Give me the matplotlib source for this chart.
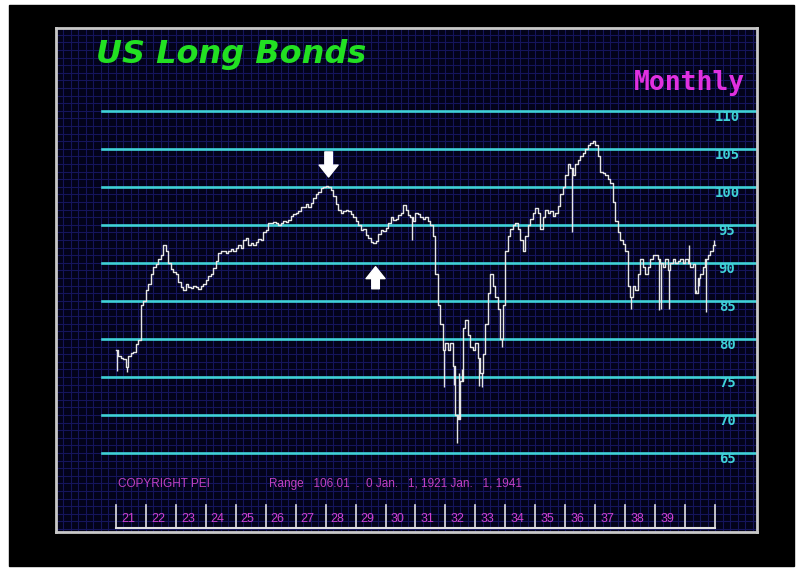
import numpy as np
import matplotlib
matplotlib.use("Agg")
import matplotlib.pyplot as plt
from matplotlib.patches import Rectangle

# monthly closes, one row per year 1921..1940
closes = [
    78.5, 77.8, 77.5, 77.3, 76.3, 77.8, 78.2, 78.3, 79.3, 79.8, 84.5, 85.0,   # 1921
    86.5, 87.2, 88.5, 89.5, 89.8, 90.5, 91.0, 92.3, 91.5, 90.0, 89.2, 88.8,   # 1922
    88.5, 87.5, 86.8, 86.5, 87.2, 86.8, 86.7, 87.0, 86.8, 86.6, 87.0, 87.2,   # 1923
    87.8, 88.3, 88.6, 89.3, 90.3, 91.3, 91.6, 91.5, 91.3, 91.6, 91.8, 91.5,   # 1924
    92.0, 92.3, 92.0, 93.0, 93.3, 92.3, 92.6, 92.4, 92.8, 93.2, 93.0, 94.0,   # 1925
    94.3, 95.2, 95.3, 95.4, 95.2, 95.0, 95.2, 95.5, 95.4, 95.7, 96.2, 96.4,   # 1926
    96.6, 96.8, 97.3, 97.3, 97.8, 97.4, 97.9, 98.6, 99.0, 99.3, 99.8, 100.0,  # 1927
    100.1, 100.0, 99.6, 98.8, 97.8, 97.0, 96.6, 96.8, 97.0, 96.8, 96.4, 96.0, # 1928
    95.5, 95.0, 94.3, 94.5, 93.7, 93.3, 92.8, 92.6, 92.9, 93.8, 94.3, 94.2,   # 1929
    94.6, 95.3, 96.0, 95.6, 95.8, 96.3, 96.5, 97.6, 97.0, 96.3, 96.0, 95.5,   # 1930
    96.6, 96.4, 96.0, 95.8, 96.0, 95.5, 95.0, 93.5, 88.5, 84.5, 82.0, 78.5,   # 1931
    79.5, 78.5, 79.5, 76.5, 70.0, 69.5, 74.5, 81.5, 82.5, 80.5, 79.0, 78.5,   # 1932
    79.5, 77.5, 75.5, 78.0, 82.0, 86.0, 88.5, 87.0, 85.5, 84.0, 80.0, 84.5,   # 1933
    91.5, 93.5, 94.5, 95.0, 95.3, 94.5, 93.0, 91.5, 93.5, 95.0, 95.8, 96.5,   # 1934
    97.2, 96.5, 94.5, 96.0, 97.0, 96.5, 96.8, 96.2, 96.5, 97.5, 99.0, 100.0,  # 1935
    101.5, 103.0, 102.5, 101.5, 103.0, 103.5, 104.0, 104.5, 105.0, 105.5, 105.8, 106.0,  # 1936
    105.5, 104.0, 102.0, 101.8, 101.5, 101.0, 100.5, 98.0, 95.5, 94.0, 93.0, 92.5,       # 1937
    91.5, 87.0, 85.5, 87.0, 86.5, 88.5, 90.5, 89.5, 88.5, 89.5, 90.5, 91.0,   # 1938
    91.0, 90.5, 90.0, 89.5, 90.5, 89.0, 90.0, 90.5, 90.0, 90.3, 90.5, 90.0,   # 1939
    90.5, 90.0, 89.5, 89.8, 86.0, 88.0, 88.5, 89.5, 90.5, 91.0, 91.5, 92.3,   # 1940
]

# months with long intramonth bars (index from Jan 1921)
spike_month = [0, 4, 118, 131, 135, 136, 137, 138, 145, 146, 154, 182, 206, 217, 218, 221, 229, 232, 233, 236, 239]
spike_end =   [75.8, 75.6, 93.0, 73.7, 74.0, 66.3, 75.5, 76.0, 73.8, 73.7, 79.0, 94.0, 84.0, 83.8, 84.0, 84.0, 92.3, 86.5, 87.0, 83.5, 93.0]

levels = [65, 70, 75, 80, 85, 90, 95, 100, 105, 110]
year_labels = ["21", "22", "23", "24", "25", "26", "27", "28", "29", "30",
               "31", "32", "33", "34", "35", "36", "37", "38", "39", ""]

fig = plt.figure(figsize=(8.01, 5.71), dpi=100, facecolor="white")
fig.add_artist(Rectangle((9 / 801, 5 / 571), 785 / 801, 561 / 571,
                         transform=fig.transFigure, color="black", zorder=-10))

# panel: px 56..757 wide, 28..532 high; 2.5 px per month, 7.6 px per point
ax = fig.add_axes([56 / 801, 39 / 571, 701 / 801, 504 / 571])
ax.set_zorder(1)
ax.set_facecolor("#03031a")
ax.set_xlim(-23.6, 256.8)
ax.set_ylim(54.6, 120.9)
ax.set_xticks(np.arange(-24, 258, 3))
ax.set_yticks(np.arange(55, 121, 1))
ax.tick_params(length=0, labelbottom=False, labelleft=False)
ax.grid(color="#15155c", lw=0.8)
ax.set_axisbelow(True)
for s in ax.spines.values():
    s.set_color("#c8c8c8")
    s.set_linewidth(2)

for lv in levels:
    ax.plot([-5.6, 256.8], [lv, lv], color="#3fd2d8", lw=1.9, zorder=2)
    ax.text(244.8, lv - 0.8, str(lv), color="#3fd2d8", fontsize=10,
            family="DejaVu Sans Mono", fontweight="bold", ha="center", va="center")

months = np.arange(len(closes) + 1)
ax.step(months, closes + [closes[-1]], where="post", color="#e6e6e6", lw=1.0, zorder=3)
sm = np.array(spike_month)
ax.vlines(sm + 0.5, [closes[i] for i in spike_month], spike_end, color="#e6e6e6", lw=1.0, zorder=3)

# arrows
arrow_style = "simple,head_length=0.66,head_width=1.05,tail_width=0.42"
ax.annotate("", xy=(85.2, 101.3), xytext=(85.2, 104.6),
            arrowprops=dict(arrowstyle=arrow_style, color="white", mutation_scale=13,
                            shrinkA=0, shrinkB=0), zorder=4)
ax.annotate("", xy=(104, 89.5), xytext=(104, 86.6),
            arrowprops=dict(arrowstyle=arrow_style, color="white", mutation_scale=13,
                            shrinkA=0, shrinkB=0), zorder=4)

# titles
ax.text(-8.0, 119.5, "US Long Bonds", color="#22e022", fontsize=23,
        fontweight="bold", fontstyle="italic", va="top", ha="left")
ax.text(252, 113.6, "Monthly", color="#e030e0", fontsize=19,
        family="DejaVu Sans Mono", fontweight="bold", ha="right", va="center")

# footer
ax.text(0.8, 60.9, "COPYRIGHT PEI", color="#c040c0", fontsize=8.5, va="center",
        family="Liberation Sans")
ax.text(61.2, 60.9, "Range   106.01  .  0 Jan.   1, 1921 Jan.   1, 1941", color="#c040c0",
        fontsize=8.5, va="center", family="Liberation Sans")

for k in range(21):
    ax.plot([12 * k, 12 * k], [55.1, 58.2], color="#e0e0e0", lw=1.2, zorder=3)
ax.plot([0, 240], [55.1, 55.1], color="#e0e0e0", lw=1.5, zorder=3)
for k, lab in enumerate(year_labels):
    ax.text(12 * k + 2, 56.3, lab, color="#d040d0", fontsize=9, va="center",
            family="Liberation Sans")

fig.savefig("out.png", dpi=100, facecolor="white")
